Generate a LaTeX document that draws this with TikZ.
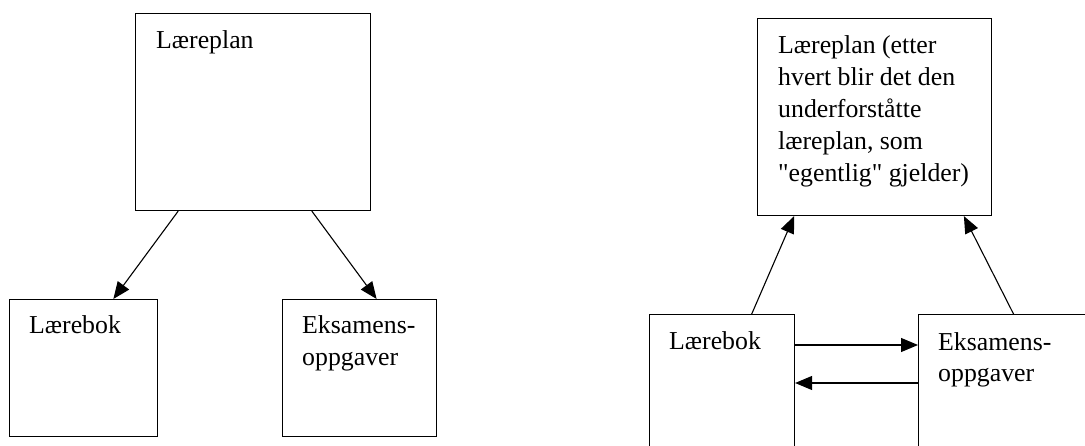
\documentclass[tikz,border=0pt]{standalone}
\usepackage{fontspec}
\setmainfont{Liberation Serif}[Ligatures=TeXOff]
\usetikzlibrary{calc, arrows.meta, positioning}

\begin{document}
\begin{tikzpicture}[x=1pt, y=-1pt, font=\fontsize{25.8}{32}\selectfont, align=left,
  box/.style={draw, line width=1.1pt, inner sep=0pt, anchor=north west},
  txt/.style={inner sep=0pt, anchor=base west},
  pil/.style={-{Triangle[length=17pt, width=14pt]}, line width=1.1pt}]
\useasboundingbox (0,0) rectangle (1085,446);
\clip (0,0) rectangle (1085,446);
% venstre: plan -> bok og eksamen
\node[box, minimum width=235pt, minimum height=197pt] (plan) at (135,13) {};
\node[box, minimum width=148pt, minimum height=137pt] (bok) at (9,299) {};
\node[box, minimum width=154pt, minimum height=137pt] (eksamen) at (282,299) {};
\node[txt] (plantxt) at ($(plan.north west)+(21,36)$) {Læreplan};
\node[txt] (boktxt) at ($(bok.north west)+(20,35)$) {Lærebok};
\node[txt] (eksamentxt) at ($(eksamen.north west)+(20,67)$) {Eksamens-\\oppgaver};
\draw[pil] ($(plan.south west)!0.183!(plan.south east)$) -- ($(bok.north west)!0.70!(bok.north east)$);
\draw[pil] ($(plan.south west)!0.749!(plan.south east)$) -- ($(eksamen.north west)!0.61!(eksamen.north east)$);
% hoyre: bok og eksamen -> plan
\node[box, minimum width=234pt, minimum height=197pt] (plan2) at (757,18) {};
\node[box, minimum width=145pt, minimum height=150pt] (bok2) at (649,314) {};
\node[box, minimum width=200pt, minimum height=150pt] (eksamen2) at (918,314) {};
\node[txt] (plan2txt) at ($(plan2.north west)+(21,164)$) {Læreplan (etter\\hvert blir det den\\underforståtte\\læreplan, som\\"egentlig" gjelder)};
\node[txt] (bok2txt) at ($(bok2.north west)+(20,36)$) {Lærebok};
\node[txt] (eksamen2txt) at ($(eksamen2.north west)+(20,68)$) {Eksamens-\\oppgaver};
\draw[pil] ($(bok2.north west)!0.703!(bok2.north east)$) -- ($(plan2.south west)!0.158!(plan2.south east)$);
\draw[pil] ($(eksamen2.north west)!0.475!(eksamen2.north east)$) -- ($(plan2.south west)!0.88!(plan2.south east)$);
\draw[pil] ($(bok2.north east)+(0,31)$) -- ($(eksamen2.north west)+(0,31)$);
\draw[pil] ($(eksamen2.north west)+(0,69)$) -- ($(bok2.north east)+(0,69)$);
\end{tikzpicture}
\end{document}
